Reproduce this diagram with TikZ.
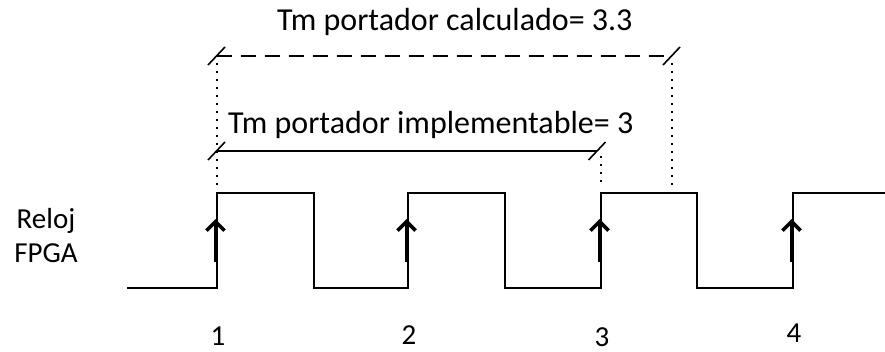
\documentclass[tikz,border=0pt]{standalone}
\usepackage{fontspec}
\setmainfont{Carlito}
\usetikzlibrary{arrows.meta}

\begin{document}
\begin{tikzpicture}[x=1pt, y=-1pt,
    senal/.style={line width=1.6pt},
    flanco/.style={line width=3.6pt, -{Straight Barb[length=9pt, width=18pt, line width=3.6pt]}},
    cota/.style={line width=1.6pt},
    marca/.style={line width=1.6pt},
    guia/.style={line width=1.5pt, dash pattern=on 1.5pt off 6.5pt},
    titulo/.style={inner sep=0pt, font=\fontsize{32}{38}\selectfont},
    etiqueta/.style={inner sep=0pt, font=\fontsize{29}{34}\selectfont},
    ]
    \useasboundingbox (0,0) rectangle (885,351);

    % Senal de reloj
    \draw[senal] (127,288) -- (217,288) -- (217,193) -- (314,193) -- (314,288)
        -- (408,288) -- (408,193) -- (505,193) -- (505,288)
        -- (601,288) -- (601,193) -- (697,193) -- (697,288)
        -- (793,288) -- (793,193) -- (885,193);

    % Flancos de subida y su numero
    \foreach \x/\yb/\n in {217/345/1, 408/344/2, 601/346/3, 793/342/4} {
        \coordinate (f\n) at (\x-1.5,262);
        \coordinate (p\n) at (\x-1.5,219);
        \draw[flanco] (f\n) -- (p\n);
        \node[etiqueta, anchor=base] (n\n) at (\x+1,\yb) {\n};
    }

    % Nombre de la senal
    \node[etiqueta, anchor=base] (reloj) at (46,228) {Reloj};
    \node[etiqueta, anchor=base] (fpga) at (46,262) {FPGA};

    % Periodo calculado
    \coordinate (c1) at (216.5,56);
    \coordinate (c2) at (671.5,56);
    \draw[cota, dash pattern=on 15pt off 9pt] (c1) -- (c2);
    \draw[marca] (c1) ++(-8.5,9) -- ++(17,-18);
    \draw[marca] (c2) ++(-8.5,9) -- ++(17,-18);
    \node[titulo, anchor=base west] (calc) at (277,30) {Tm portador calculado= 3.3};

    % Periodo implementable
    \coordinate (i1) at (216.5,151);
    \coordinate (i2) at (597,151);
    \draw[cota] (i1) -- (i2);
    \draw[marca] (i1) ++(-8.5,9) -- ++(17,-18);
    \draw[marca] (i2) ++(-8.5,9) -- ++(17,-18);
    \node[titulo, anchor=base west] (impl) at (228,133) {Tm portador implementable= 3};

    % Lineas de referencia
    \draw[guia] (217,63) -- (217,190);
    \draw[guia] (672,63) -- (672,186);
    \draw[guia] (601,156) -- (601,186);
\end{tikzpicture}
\end{document}
